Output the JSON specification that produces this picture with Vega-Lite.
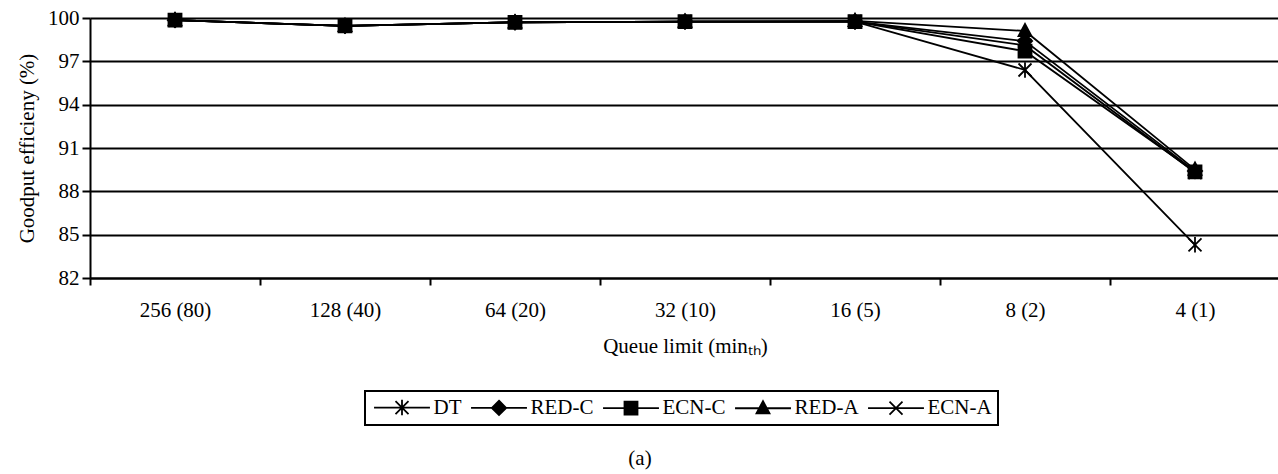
{
  "$schema": "https://vega.github.io/schema/vega-lite/v6.json",
  "width": 1190,
  "height": 260,
  "autosize": {"type": "none"},
  "padding": {"left": 90, "top": 18, "right": 0, "bottom": 196},
  "background": "white",
  "title": {"text": "(a)", "orient": "bottom", "offset": 22, "dx": -45, "font": "Liberation Serif", "fontSize": 21, "fontWeight": "normal", "color": "black", "anchor": "middle"},
  "config": {
    "font": "Liberation Serif",
    "view": {"stroke": null},
    "legend": {"strokeWidth": 2},
    "axis": {"labelFont": "Liberation Serif", "titleFont": "Liberation Serif", "labelColor": "black", "titleColor": "black", "titleFontWeight": "normal", "domainColor": "black", "tickColor": "black", "domainWidth": 2, "tickWidth": 2}
  },
  "data": {"values": [
    {"q": "256 (80)", "s": "DT", "v": 99.85}, {"q": "256 (80)", "s": "RED-C", "v": 99.85}, {"q": "256 (80)", "s": "ECN-C", "v": 99.85}, {"q": "256 (80)", "s": "RED-A", "v": 99.85}, {"q": "256 (80)", "s": "ECN-A", "v": 99.85},
    {"q": "128 (40)", "s": "DT", "v": 99.45}, {"q": "128 (40)", "s": "RED-C", "v": 99.45}, {"q": "128 (40)", "s": "ECN-C", "v": 99.45}, {"q": "128 (40)", "s": "RED-A", "v": 99.45}, {"q": "128 (40)", "s": "ECN-A", "v": 99.45},
    {"q": "64 (20)", "s": "DT", "v": 99.7}, {"q": "64 (20)", "s": "RED-C", "v": 99.7}, {"q": "64 (20)", "s": "ECN-C", "v": 99.7}, {"q": "64 (20)", "s": "RED-A", "v": 99.7}, {"q": "64 (20)", "s": "ECN-A", "v": 99.7},
    {"q": "32 (10)", "s": "DT", "v": 99.75}, {"q": "32 (10)", "s": "RED-C", "v": 99.75}, {"q": "32 (10)", "s": "ECN-C", "v": 99.75}, {"q": "32 (10)", "s": "RED-A", "v": 99.75}, {"q": "32 (10)", "s": "ECN-A", "v": 99.75},
    {"q": "16 (5)", "s": "DT", "v": 99.75}, {"q": "16 (5)", "s": "RED-C", "v": 99.75}, {"q": "16 (5)", "s": "ECN-C", "v": 99.75}, {"q": "16 (5)", "s": "RED-A", "v": 99.8}, {"q": "16 (5)", "s": "ECN-A", "v": 99.75},
    {"q": "8 (2)", "s": "DT", "v": 96.4}, {"q": "8 (2)", "s": "RED-C", "v": 98.4}, {"q": "8 (2)", "s": "ECN-C", "v": 97.7}, {"q": "8 (2)", "s": "RED-A", "v": 99.1}, {"q": "8 (2)", "s": "ECN-A", "v": 98.1},
    {"q": "4 (1)", "s": "DT", "v": 84.3}, {"q": "4 (1)", "s": "RED-C", "v": 89.4}, {"q": "4 (1)", "s": "ECN-C", "v": 89.35}, {"q": "4 (1)", "s": "RED-A", "v": 89.5}, {"q": "4 (1)", "s": "ECN-A", "v": 89.3}
  ]},
  "encoding": {
    "x": {"field": "q", "type": "ordinal", "sort": null,
      "scale": {"paddingInner": 0, "paddingOuter": 0},
      "axis": {"title": "Queue limit (minₜₕ)", "labelAngle": 0, "labelFontSize": 21, "titleFontSize": 21, "tickBand": "extent", "tickSize": 7, "labelPadding": 14, "titlePadding": 15, "grid": false}},
    "y": {"field": "v", "type": "quantitative",
      "scale": {"domain": [82, 100], "nice": false, "zero": false},
      "axis": {"title": "Goodput efficieny (%)", "values": [82, 85, 88, 91, 94, 97, 100], "labelFontSize": 21, "titleFontSize": 21, "tickSize": 8, "labelPadding": 3, "titlePadding": 10, "grid": true, "gridColor": "black", "gridWidth": 2, "gridOpacity": 1}}
  },
  "resolve": {"scale": {"shape": "independent"}, "legend": {"shape": "independent"}},
  "layer": [
    {"mark": {"type": "line", "color": "black", "strokeWidth": 1.8},
     "encoding": {"detail": {"field": "s"}}},
    {"mark": {"type": "point", "filled": true, "fill": "black", "stroke": "black", "strokeWidth": 1.8, "size": 169, "opacity": 1},
     "encoding": {"shape": {"field": "s", "type": "nominal", "legend": null,
       "scale": {"domain": ["DT", "RED-C", "ECN-C", "RED-A", "ECN-A"],
                 "range": ["M-1,-1L1,1M-1,1L1,-1M0,-1.2V1.2", "M0,-1.1L1.1,0L0,1.1L-1.1,0Z", "M-1,-1H1V1H-1Z", "M0,-1.1L1,0.8H-1Z", "M-1,-1L1,1M-1,1L1,-1"]}}}
    },
    {"mark": {"type": "point", "filled": true, "fill": "black", "stroke": "black", "strokeWidth": 1.8, "size": 169, "opacity": 0},
     "encoding": {"shape": {"field": "s", "type": "nominal",
       "scale": {"domain": ["DT", "RED-C", "ECN-C", "RED-A", "ECN-A"],
                 "range": ["M-1,-1L1,1M-1,1L1,-1M0,-1.2V1.2M-4.3,0H4.3", "M0,-1.1L1.1,0L0,1.1L-1.1,0ZM-4.3,0H4.3", "M-1,-1H1V1H-1ZM-4.3,0H4.3", "M0,-1.1L1,0.8H-1ZM-4.3,0H4.3", "M-1,-1L1,1M-1,1L1,-1M-4.3,0H4.3"]},
       "legend": {"title": null, "orient": "none", "legendX": 275, "legendY": 373, "direction": "horizontal",
         "labelFontSize": 21, "labelColor": "black", "labelFont": "Liberation Serif",
         "symbolSize": 169, "symbolStrokeWidth": 1.8, "symbolOpacity": 1,
         "symbolOffset": 20.5, "labelOffset": 21, "columnPadding": 5, "padding": 6,
         "strokeColor": "black"}}}
    }
  ]
}
